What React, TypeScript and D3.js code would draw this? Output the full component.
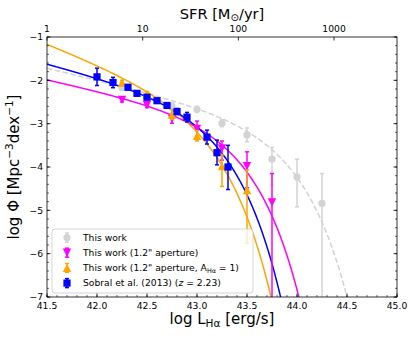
import React from "react";
import * as d3 from "d3";

// ---------- data ----------
const grayX = [42.25, 42.5, 42.75, 43.0, 43.25, 43.5, 43.75, 44.0, 44.25];
const grayY = [-2.17, -2.38, -2.59, -2.67, -2.99, -3.26, -3.82, -4.23, -4.84];
const grayUp = [0.05, 0.05, 0.06, 0.07, 0.08, 0.16, 0.27, 0.41, 0.69];
const grayLo = [0.05, 0.05, 0.06, 0.07, 0.08, 0.16, 0.6, 0.69, 3.0];

const magentaX = [42.25, 42.5, 42.75, 43.0, 43.25, 43.5, 43.75];
const magentaY = [-2.45, -2.57, -2.89, -3.12, -3.57, -3.98, -4.82];
const magentaUp = [0.05, 0.06, 0.1, 0.18, 0.17, 0.33, 0.67];
const magentaLo = [0.05, 0.06, 0.1, 0.2, 0.27, 0.5, 3.0];

const orangeX = [42.25, 42.5, 42.75, 43.0, 43.25, 43.5];
const orangeY = [-2.05, -2.32, -2.79, -3.28, -3.98, -4.53];
const orangeUp = [0.05, 0.06, 0.11, 0.12, 0.26, 0.46];
const orangeLo = [0.05, 0.06, 0.11, 0.12, 0.47, 1.23];

const blueX = [42.0, 42.16, 42.31, 42.4, 42.5, 42.6, 42.7, 42.8, 42.9, 43.1, 43.2, 43.31];
const blueY = [-1.92, -2.05, -2.16, -2.3, -2.39, -2.47, -2.58, -2.72, -2.85, -3.31, -3.67, -4.0];
const blueUp = [0.2, 0.12, 0.06, 0.05, 0.05, 0.05, 0.05, 0.07, 0.11, 0.16, 0.29, 0.5];
const blueLo = [0.2, 0.12, 0.06, 0.05, 0.05, 0.05, 0.05, 0.07, 0.11, 0.16, 0.28, 0.52];

// Schechter fits: [log L*, log(phi* ln10), alpha+1]
const grayFit = [43.5775, -2.86, -0.55];
const magentaFit = [43.081, -2.77, -0.5];
const orangeFit = [42.794, -2.313, -0.9];
const blueFit = [42.87, -2.418, -0.59];

const xTicks = [41.5, 42.0, 42.5, 43.0, 43.5, 44.0, 44.5, 45.0];
const yTicks = [-1, -2, -3, -4, -5, -6, -7];
const sfrTicks = [1, 10, 100, 1000];

const legendLabels = [
  "This work",
  'This work (1.2" aperture)',
  'This work (1.2" aperture, A',
  "Sobral et al. (2013) (",
];

// ---------- layout ----------
const W = 415;
const H = 338;
const L = 47, R = 397, T = 37, B = 297;

const x = d3.scaleLinear().domain([41.5, 45]).range([L, R]);
const y = d3.scaleLinear().domain([-7, -1]).range([B, T]);
const xTop = d3.scaleLog().domain([1, 4550]).range([L, R]);

const GRAY = "#d3d3d3";
const MAG = "#ff00ff";
const ORA = "#ffa500";
const BLU = "#0000ff";

function schechter(p: number[], lx: number) {
  const [ls, a, b] = p;
  return a + b * (lx - ls) - Math.pow(10, lx - ls) / Math.LN10;
}

function curvePath(p: number[]) {
  const xs = d3.range(41.5, 45.0001, 0.005);
  return d3
    .line<number>()
    .x((d) => x(d))
    .y((d) => y(Math.max(schechter(p, d), -9)))(xs) as string;
}

function Marker({ kind, cx, cy, color }: { kind: string; cx: number; cy: number; color: string }) {
  if (kind === "circle") return <circle cx={cx} cy={cy} r={3.6} fill={color} />;
  if (kind === "square") return <rect x={cx - 3.6} y={cy - 3.6} width={7.2} height={7.2} fill={color} />;
  const s = 4.2;
  if (kind === "down") {
    return <path d={`M${cx - s},${cy - s}L${cx + s},${cy - s}L${cx},${cy + s}Z`} fill={color} />;
  }
  return <path d={`M${cx - s},${cy + s}L${cx + s},${cy + s}L${cx},${cy - s}Z`} fill={color} />;
}

function Series({
  xs, ys, up, lo, color, kind,
}: { xs: number[]; ys: number[]; up: number[]; lo: number[]; color: string; kind: string }) {
  return (
    <g>
      {xs.map((xv, i) => {
        const px = x(xv);
        const y1 = y(ys[i] + up[i]);
        const y2 = y(ys[i] - lo[i]);
        return (
          <g key={i}>
            <line x1={px} x2={px} y1={y1} y2={y2} stroke={color} strokeWidth={1.5} />
            <line x1={px - 2} x2={px + 2} y1={y1} y2={y1} stroke={color} strokeWidth={1.5} />
            <line x1={px - 2} x2={px + 2} y1={y2} y2={y2} stroke={color} strokeWidth={1.5} />
            <Marker kind={kind} cx={px} cy={y(ys[i])} color={color} />
          </g>
        );
      })}
    </g>
  );
}

export default function App() {
  const font = "DejaVu Sans, sans-serif";
  const minorX = d3.range(41.5, 45.0001, 0.1);
  const minorY = d3.range(-7, -0.9999, 0.2);
  const legendRows = [
    { color: GRAY, kind: "circle" },
    { color: MAG, kind: "down" },
    { color: ORA, kind: "up" },
    { color: BLU, kind: "square" },
  ];
  const lx0 = 52, ly0 = 229, lw = 201, lh = 64;
  return (
    <svg width={W} height={H} style={{ position: "absolute", left: 0, top: 0 }} fontFamily={font}>
      <defs>
        <clipPath id="plotclip">
          <rect x={L} y={T} width={R - L} height={B - T} />
        </clipPath>
      </defs>
      <rect x={0} y={0} width={W} height={H} fill="white" />
      <g clipPath="url(#plotclip)">
        <path d={curvePath(grayFit)} fill="none" stroke={GRAY} strokeWidth={1.5} strokeDasharray="5.5,2.5" />
        <path d={curvePath(magentaFit)} fill="none" stroke={MAG} strokeWidth={1.5} />
        <path d={curvePath(orangeFit)} fill="none" stroke={ORA} strokeWidth={1.5} />
        <path d={curvePath(blueFit)} fill="none" stroke={BLU} strokeWidth={1.5} />
        <Series xs={grayX} ys={grayY} up={grayUp} lo={grayLo} color={GRAY} kind="circle" />
        <Series xs={magentaX} ys={magentaY} up={magentaUp} lo={magentaLo} color={MAG} kind="down" />
        <Series xs={orangeX} ys={orangeY} up={orangeUp} lo={orangeLo} color={ORA} kind="up" />
        <Series xs={blueX} ys={blueY} up={blueUp} lo={blueLo} color={BLU} kind="square" />
      </g>

      {/* legend */}
      <rect x={lx0} y={ly0} width={lw} height={lh} rx={3} fill="white" fillOpacity={0.8} stroke="#cccccc" strokeWidth={0.8} />
      {legendRows.map((r, i) => {
        const cy = 237.5 + i * 15.2;
        const cx = 67;
        return (
          <g key={i}>
            <line x1={cx} x2={cx} y1={cy - 4.5} y2={cy + 4.5} stroke={r.color} strokeWidth={1.5} />
            <line x1={cx - 2} x2={cx + 2} y1={cy - 4.5} y2={cy - 4.5} stroke={r.color} strokeWidth={1.5} />
            <line x1={cx - 2} x2={cx + 2} y1={cy + 4.5} y2={cy + 4.5} stroke={r.color} strokeWidth={1.5} />
            <Marker kind={r.kind} cx={cx} cy={cy} color={r.color} />
            <text x={83} y={cy + 3.2} fontSize={9.2} fill="#000">
              {legendLabels[i]}
              {i === 2 && (
                <>
                  <tspan fontSize={6.4} dy={2}>Hα</tspan>
                  <tspan dy={-2}> = 1)</tspan>
                </>
              )}
              {i === 3 && (
                <>
                  <tspan fontStyle="italic">z</tspan>
                  <tspan> = 2.23)</tspan>
                </>
              )}
            </text>
          </g>
        );
      })}

      {/* frame */}
      <rect x={L} y={T} width={R - L} height={B - T} fill="none" stroke="#000" strokeWidth={0.8} />

      {/* bottom ticks */}
      {minorX.map((v, i) => (
        <line key={"mx" + i} x1={x(v)} x2={x(v)} y1={B} y2={B - 2} stroke="#000" strokeWidth={0.6} />
      ))}
      {xTicks.map((v) => (
        <g key={"xt" + v}>
          <line x1={x(v)} x2={x(v)} y1={B} y2={B - 3.5} stroke="#000" strokeWidth={0.8} />
          <text x={x(v)} y={309} fontSize={9.2} textAnchor="middle">{v.toFixed(1)}</text>
        </g>
      ))}

      {/* left & right ticks */}
      {minorY.map((v, i) => (
        <g key={"my" + i}>
          <line x1={L} x2={L + 2} y1={y(v)} y2={y(v)} stroke="#000" strokeWidth={0.6} />
          <line x1={R} x2={R - 2} y1={y(v)} y2={y(v)} stroke="#000" strokeWidth={0.6} />
        </g>
      ))}
      {yTicks.map((v) => (
        <g key={"yt" + v}>
          <line x1={L} x2={L + 3.5} y1={y(v)} y2={y(v)} stroke="#000" strokeWidth={0.8} />
          <line x1={R} x2={R - 3.5} y1={y(v)} y2={y(v)} stroke="#000" strokeWidth={0.8} />
          <text x={L - 4} y={y(v) + (v === -7 ? 2.5 : 3.3)} fontSize={9.2} textAnchor="end">{"\u2212" + Math.abs(v)}</text>
        </g>
      ))}

      {/* top SFR axis */}
      {sfrTicks.map((v) => (
        <g key={"st" + v}>
          <line x1={xTop(v)} x2={xTop(v)} y1={T} y2={T + 3.5} stroke="#000" strokeWidth={0.8} />
          <text x={xTop(v)} y={32} fontSize={9.2} textAnchor="middle">{String(v)}</text>
        </g>
      ))}

      {/* axis labels */}
      <text x={222} y={18.5} fontSize={14.6} textAnchor="middle">
        SFR [M<tspan fontSize={10.2} dy={2.5}>⊙</tspan><tspan dy={-2.5}>/yr]</tspan>
      </text>
      <text x={222} y={324} fontSize={15} textAnchor="middle">
        log L<tspan fontSize={10.5} dy={3}>Hα</tspan><tspan dy={-3}> [erg/s]</tspan>
      </text>
      <text transform={`translate(19,${(T + B) / 2}) rotate(-90)`} fontSize={15} textAnchor="middle">
        log Φ [Mpc<tspan fontSize={10.5} dy={-6}>−3</tspan><tspan dy={6}>dex</tspan>
        <tspan fontSize={10.5} dy={-6}>−1</tspan><tspan dy={6}>]</tspan>
      </text>
    </svg>
  );
}
